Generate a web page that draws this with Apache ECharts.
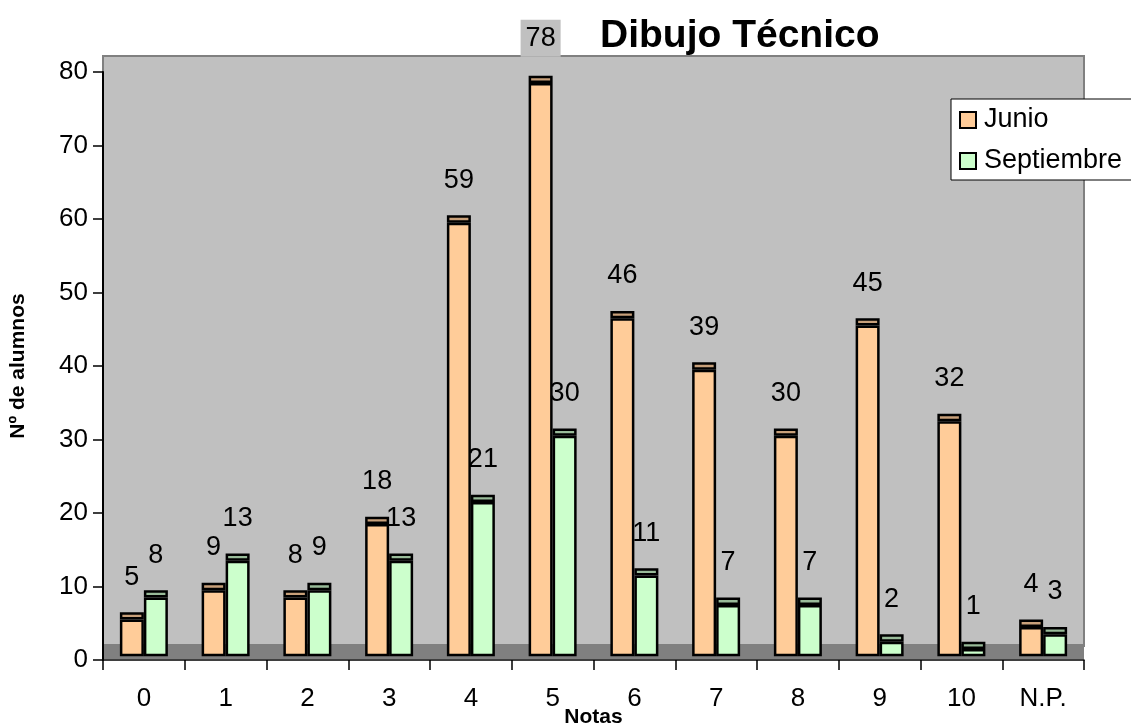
<!DOCTYPE html>
<html>
<head>
<meta charset="utf-8">
<script src="https://cdn.jsdelivr.net/npm/echarts@6/dist/echarts.min.js"></script>
<style>
html,body{margin:0;padding:0;background:#fff;}
#c{width:1131px;height:728px;}
</style>
</head>
<body>
<div id="c"></div>
<script>
const categories = ['0','1','2','3','4','5','6','7','8','9','10','N.P.'];
const junio = [5, 9, 8, 18, 59, 78, 46, 39, 30, 45, 32, 4];
const septiembre = [8, 13, 9, 13, 21, 30, 11, 7, 7, 2, 1, 3];
const yTicks = {min: 0, max: 80, interval: 10};

const FONT = "'Liberation Sans', Arial, sans-serif";
const BASE = 0.5;   // 3D floor offset
const CAP = 1.0;    // 3D top depth

const chart = echarts.init(document.getElementById('c'), null, {renderer: 'canvas'});

function baseSeries(stack) {
  return {
    type: 'bar', stack: stack, name: stack + '_base', silent: true,
    barWidth: 24, barGap: '0%',
    itemStyle: {color: 'rgba(0,0,0,0)', borderWidth: 0},
    data: categories.map(() => BASE), z: 2
  };
}
function bodySeries(name, stack, vals, color) {
  return {
    type: 'bar', stack: stack, name: name, barWidth: 24, barGap: '0%',
    itemStyle: {color: color, borderColor: '#000', borderWidth: 2.5},
    data: vals.slice(), z: 2
  };
}
function capSeries(stack, vals, color) {
  return {
    type: 'bar', stack: stack, name: stack + '_cap', barWidth: 24, barGap: '0%',
    itemStyle: {color: color, borderColor: '#000', borderWidth: 2.5},
    data: vals.map(v => {
      const outside = v + BASE + CAP + 3 > yTicks.max;
      return outside
        ? {value: CAP, label: {backgroundColor: '#c0c0c0', padding: [5, 5, 4, 5]}}
        : CAP;
    }),
    z: 2,
    label: {
      show: true, position: 'top', distance: 19,
      formatter: p => String(vals[p.dataIndex]),
      fontFamily: FONT, fontSize: 27, lineHeight: 28, color: '#000',
      padding: [0, 0, 2, 0]
    }
  };
}

const option = {
  animation: false,
  backgroundColor: '#fff',
  title: {
    text: 'Dibujo Técnico', left: 595, top: 12,
    textStyle: {fontFamily: FONT, fontSize: 39, fontWeight: 'bold', color: '#000'}
  },
  legend: {
    data: ['Junio', 'Septiembre'], orient: 'vertical', left: 951, top: 99,
    backgroundColor: '#fff', borderColor: '#000', borderWidth: 1,
    padding: [6, 30, 4, 8], itemWidth: 16, itemHeight: 16, itemGap: 11,
    textStyle: {fontFamily: FONT, fontSize: 27, lineHeight: 30, color: '#000', padding: [0, 0, 0, 3]},
    icon: 'rect'
  },
  grid: {left: 103, right: 47, top: 72, bottom: 68, containLabel: false, outerBoundsMode: 'none'},
  graphic: [
    {type: 'rect', z: -1, shape: {x: 103, y: 56, width: 981, height: 590},
     style: {fill: '#c0c0c0', stroke: '#808080', lineWidth: 2}},
    {type: 'rect', z: -1, shape: {x: 103, y: 644, width: 981, height: 15},
     style: {fill: '#808080'}}
  ],
  xAxis: {
    type: 'category', data: categories, z: 5,
    axisLine: {lineStyle: {color: '#000', width: 1.5}},
    axisTick: {show: true, length: 10, lineStyle: {color: '#000', width: 1.5}},
    axisLabel: {fontFamily: FONT, fontSize: 26, color: '#000', margin: 26},
    name: 'Notas', nameLocation: 'middle', nameGap: 47, nameMoveOverlap: false,
    nameTextStyle: {fontFamily: FONT, fontSize: 21, fontWeight: 'bold', color: '#000'}
  },
  yAxis: {
    type: 'value', min: yTicks.min, max: yTicks.max, interval: yTicks.interval, z: 5,
    axisLine: {show: true, lineStyle: {color: '#000', width: 2}},
    axisTick: {show: true, length: 10, lineStyle: {color: '#000', width: 1.5}},
    axisLabel: {fontFamily: FONT, fontSize: 26, color: '#000', margin: 15},
    splitLine: {show: false},
    name: 'Nº de alumnos', nameLocation: 'middle', nameGap: 74, nameRotate: 90, nameMoveOverlap: false,
    nameTextStyle: {fontFamily: FONT, fontSize: 21, fontWeight: 'bold', color: '#000'}
  },
  series: [
    baseSeries('j'),
    bodySeries('Junio', 'j', junio, '#FFCC99'),
    capSeries('j', junio, '#C8A07A'),
    baseSeries('s'),
    bodySeries('Septiembre', 's', septiembre, '#CCFFCC'),
    capSeries('s', septiembre, '#99BB99')
  ]
};
chart.setOption(option);
</script>
</body>
</html>
